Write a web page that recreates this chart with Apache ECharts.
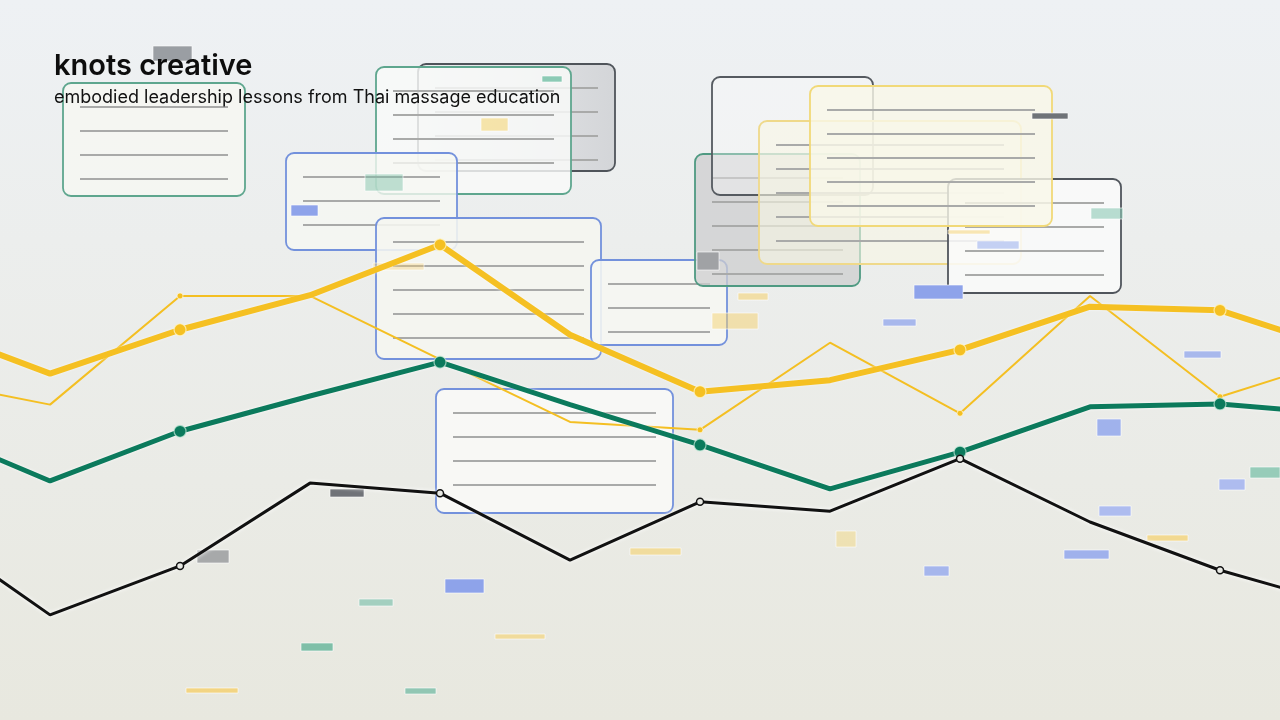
<!DOCTYPE html>
<html>
<head>
<meta charset="utf-8">
<script src="https://cdn.jsdelivr.net/npm/echarts@6/dist/echarts.min.js"></script>
<style>
html,body{margin:0;padding:0;width:1280px;height:720px;overflow:hidden;background:#eceeee;}
#chart{width:1280px;height:720px;}
</style>
</head>
<body>
<div id="chart"></div>
<script>
// ---- data ----
const categories = ['s0','s1','s2','s3','s4','s5','s6','s7','s8','s9','s10','s11'];
const practiceThick = [54.9, 48.1, 54.2, 59.0, 66.0, 53.5, 45.6, 47.2, 51.4, 57.4, 56.9, 51.0];
const practiceThin  = [47.4, 43.8, 58.9, 58.9, 50.1, 41.4, 40.3, 52.4, 42.6, 58.9, 44.9, 50.6];
const presence      = [40.8, 33.2, 40.1, 45.0, 49.7, 43.8, 38.2, 32.1, 37.2, 43.5, 43.9, 42.4];
const grounding     = [27.2, 14.6, 21.4, 32.9, 31.5, 22.2, 30.3, 29.0, 36.3, 27.5, 20.8, 15.7];
const titleText = 'knots creative';
const subtitleText = 'embodied leadership lessons from Thai massage education';
// visible window of the session axis (first and last sessions run off the edges)
const xWindowMin = 0.615;
const xWindowMax = 10.4615;

// ---- decoration (cards and small tags; not data) ----
const cards = [
  // x, y, w, h, fill, stroke, opacity, lines
  [63, 83, 182, 113, 'rgba(246,247,242,0.85)', '#5ea68e', 1, 4],
  [418, 64, 197, 107, 'grad', '#4f545a', 1, 4],
  [376, 67, 195, 127, 'rgba(249,250,249,0.82)', '#5ea68e', 1, 4],
  [286, 153, 171, 97, 'rgba(246,247,242,0.8)', '#7391dc', 1, 3],
  [376, 218, 225, 141, 'rgba(245,246,240,0.88)', '#7391dc', 1, 5],
  [591, 260, 136, 85, 'rgba(246,247,243,0.88)', '#7391dc', 1, 3],
  [436, 389, 237, 124, 'rgba(248,248,246,0.92)', '#7391dc', 1, 4],
  [695, 154, 165, 132, 'rgba(205,206,207,0.75)', '#4f9a82', 1, 5],
  [712, 77, 161, 118, 'rgba(251,251,251,0.35)', '#555a60', 1, 0],
  [759, 121, 262, 143, 'rgba(249,247,228,0.6)', '#efd98a', 0.75, 5],
  [948, 179, 173, 114, 'rgba(250,250,250,0.85)', '#50555c', 1, 4],
  [810, 86, 242, 140, 'rgba(249,248,232,0.8)', '#f1d978', 1, 5]
];
const tags = [
  [153, 46, 39, 15, '#9a9ea3'],
  [542, 76, 20, 6, '#8ccab5'],
  [481, 118, 27, 13, 'rgba(245,215,120,0.6)'],
  [365, 174, 38, 17, 'rgba(120,190,165,0.45)'],
  [291, 205, 27, 11, '#8ea3ea'],
  [373, 263, 51, 7, 'rgba(245,205,110,0.35)'],
  [697, 252, 22, 18, '#a0a2a5'],
  [738, 293, 30, 7, 'rgba(245,210,110,0.55)'],
  [712, 313, 46, 16, 'rgba(245,210,110,0.5)'],
  [914, 285, 49, 14, '#8ea3ea'],
  [883, 319, 33, 7, '#a8b8ec'],
  [1184, 351, 37, 7, '#a8b8ec'],
  [1097, 419, 24, 17, '#a0b2ec'],
  [1250, 467, 30, 11, '#97ccb9'],
  [1219, 479, 26, 11, '#aebcef'],
  [1099, 506, 32, 10, '#aebcef'],
  [1147, 535, 41, 6, 'rgba(245,210,110,0.7)'],
  [1064, 550, 45, 9, '#9fb1ec'],
  [924, 566, 25, 10, '#a6b6ec'],
  [836, 531, 20, 16, 'rgba(245,215,120,0.45)'],
  [630, 548, 51, 7, 'rgba(245,210,110,0.6)'],
  [330, 489, 34, 8, '#707378'],
  [197, 550, 32, 13, '#a7a9aa'],
  [445, 579, 39, 14, '#8ea3ea'],
  [359, 599, 34, 7, '#a3cfbf'],
  [495, 634, 50, 5, 'rgba(245,210,110,0.6)'],
  [301, 643, 32, 8, '#7fbfa8'],
  [186, 688, 52, 5, 'rgba(245,205,100,0.75)'],
  [405, 688, 31, 6, '#91c6b3'],
  [1032, 113, 36, 6, '#6f7378'],
  [1091, 208, 32, 11, 'rgba(140,200,180,0.6)'],
  [977, 241, 42, 8, 'rgba(160,180,240,0.6)'],
  [948, 230, 42, 4, 'rgba(245,210,110,0.5)']
];

const graphics = [];
cards.forEach(function (c) {
  const x = c[0], y = c[1], w = c[2], h = c[3];
  let fill = c[4];
  if (fill === 'grad') {
    fill = new echarts.graphic.LinearGradient(0, 0, 1, 0, [
      {offset: 0, color: 'rgba(236,237,239,0.9)'},
      {offset: 1, color: 'rgba(210,212,215,0.95)'}
    ]);
  }
  const children = [{
    type: 'rect',
    shape: {x: 0, y: 0, width: w, height: h, r: 8},
    style: {fill: fill, stroke: c[5], lineWidth: 1.8}
  }];
  for (let k = 1; k <= c[7]; k++) {
    children.push({
      type: 'line',
      shape: {x1: 17, y1: 24 * k, x2: w - 17, y2: 24 * k},
      style: {stroke: '#a9aaa9', lineWidth: 2}
    });
  }
  graphics.push({type: 'group', x: x, y: y, z: 1, style: {opacity: c[6]}, children: children});
});
tags.forEach(function (t) {
  graphics.push({
    type: 'rect', z: 1,
    shape: {x: t[0], y: t[1], width: t[2], height: t[3]},
    style: {fill: t[4], stroke: 'rgba(255,255,255,0.6)', lineWidth: 1}
  });
});

function pairs(arr) { return arr.map(function (v, i) { return [i, v]; }); }
function markSize(big) {
  return function (v, p) { return p.dataIndex % 2 === 0 ? big : 0; };
}

const chart = echarts.init(document.getElementById('chart'), null, {renderer: 'canvas'});
chart.setOption({
  animation: false,
  backgroundColor: new echarts.graphic.LinearGradient(0, 0, 0, 1, [
    {offset: 0, color: '#eef1f4'},
    {offset: 1, color: '#e8e8df'}
  ]),
  title: {
    text: titleText,
    subtext: subtitleText,
    left: 49, top: 47,
    itemGap: 8,
    textStyle: {fontFamily: 'Inter', fontSize: 29, fontWeight: 600, color: '#0d0d0d'},
    subtextStyle: {fontFamily: 'Inter', fontSize: 18, fontWeight: 400, color: '#111'}
  },
  graphic: graphics,
  grid: {left: 0, right: 0, top: 0, bottom: 0, containLabel: false},
  xAxis: {
    type: 'value', min: xWindowMin, max: xWindowMax, show: false,
    axisLabel: {formatter: function (v) { return categories[v] || ''; }}
  },
  yAxis: {type: 'value', min: 0, max: 100, show: false},
  series: [
    {
      name: 'practice (light)', type: 'line', data: pairs(practiceThin), z: 3,
      showAllSymbol: true, symbol: 'circle', symbolSize: markSize(6),
      itemStyle: {color: '#f4bf22', borderColor: 'rgba(255,250,220,0.7)', borderWidth: 1},
      lineStyle: {color: '#f4bf22', width: 2}
    },
    {
      name: 'practice', type: 'line', data: pairs(practiceThick), z: 4,
      showAllSymbol: true, symbol: 'circle', symbolSize: markSize(12),
      itemStyle: {color: '#f5c022', borderColor: 'rgba(255,245,200,0.75)', borderWidth: 1.2},
      lineStyle: {color: '#f5c022', width: 6, shadowColor: 'rgba(255,255,255,0.6)', shadowBlur: 3}
    },
    {
      name: 'presence', type: 'line', data: pairs(presence), z: 5,
      showAllSymbol: true, symbol: 'circle', symbolSize: markSize(12),
      itemStyle: {color: '#0b7a5c', borderColor: 'rgba(200,235,220,0.7)', borderWidth: 1.2},
      lineStyle: {color: '#0b7a5c', width: 5, shadowColor: 'rgba(255,255,255,0.9)', shadowBlur: 3}
    },
    {
      name: 'grounding', type: 'line', data: pairs(grounding), z: 6,
      showAllSymbol: true, symbol: 'circle', symbolSize: markSize(7),
      itemStyle: {color: '#e8e9e4', borderColor: '#111', borderWidth: 1.5},
      lineStyle: {color: '#111', width: 3, shadowColor: 'rgba(255,255,255,1)', shadowBlur: 4}
    }
  ]
});
</script>
</body>
</html>
